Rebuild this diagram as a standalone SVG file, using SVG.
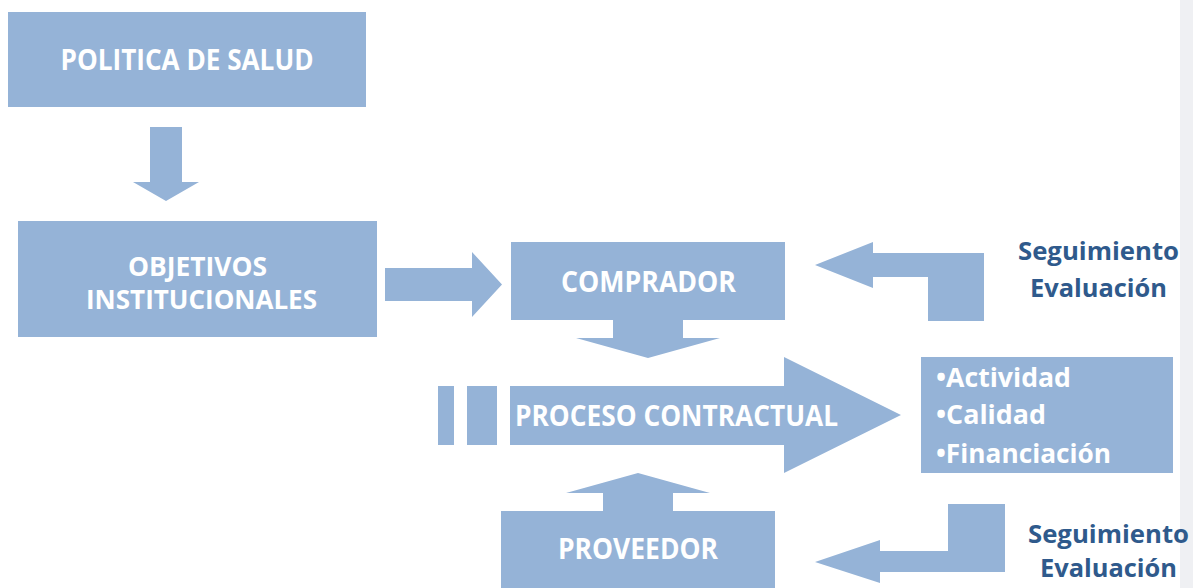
<svg xmlns="http://www.w3.org/2000/svg" width="1193" height="588" viewBox="0 0 1193 588">
<style>
.s{fill:#95b3d7}
.t{font-family:"Open Sans","DejaVu Sans",sans-serif;font-weight:bold;fill:#ffffff;font-size:28px}
.o{font-family:"Open Sans","DejaVu Sans",sans-serif;font-weight:bold;fill:#ffffff;font-size:26px}
.b{font-family:"Open Sans","DejaVu Sans",sans-serif;font-weight:bold;fill:#ffffff;font-size:27px}
.e{font-family:"Open Sans","DejaVu Sans",sans-serif;font-weight:bold;fill:#2f5a8c;font-size:25px}
</style>
<rect x="0" y="0" width="1193" height="588" fill="#ffffff"/>
<rect x="1180" y="0" width="13" height="588" fill="#eff0f3"/>
<g id="connectors">
<polygon class="s" points="150,127 182,127 182,182 199,182 166,201 133,182 150,182"/>
<polygon class="s" points="385,268 472,268 472,252 502,284.5 472,317 472,301 385,301"/>
<polygon class="s" points="613,320 683,320 683,338 720,338 648,358 576,338 613,338"/>
<polygon class="s" points="603,511 673,511 673,493 710,493 638,473 566,493 603,493"/>
<polygon class="s" points="815,265 873,242 873,253 984,253 984,321 928,321 928,277 873,277 873,288"/>
<polygon class="s" points="815,562 880,540 880,551 948,551 948,504 1005,504 1005,572 880,572 880,583"/>
<rect class="s" x="438" y="386" width="16" height="59"/>
<rect class="s" x="467" y="386" width="30" height="59"/>
</g>
<g id="politica">
<rect class="s" x="8" y="12" width="358" height="95"/>
<text class="t" x="187" y="70" text-anchor="middle" textLength="253" lengthAdjust="spacingAndGlyphs">POLITICA DE SALUD</text>
</g>
<g id="objetivos">
<rect class="s" x="18" y="221" width="359" height="116"/>
<text class="o" x="197.5" y="276" text-anchor="middle" textLength="139" lengthAdjust="spacingAndGlyphs">OBJETIVOS</text>
<text class="o" x="201.5" y="309" text-anchor="middle" textLength="231" lengthAdjust="spacingAndGlyphs">INSTITUCIONALES</text>
</g>
<g id="comprador">
<rect class="s" x="511" y="242" width="274" height="78"/>
<text class="t" x="648.5" y="292" text-anchor="middle" textLength="175" lengthAdjust="spacingAndGlyphs">COMPRADOR</text>
</g>
<g id="proceso">
<polygon class="s" points="510,386 784,386 784,357 901,415 784,473 784,445 510,445"/>
<text class="t" x="515" y="426" textLength="323" lengthAdjust="spacingAndGlyphs">PROCESO CONTRACTUAL</text>
</g>
<g id="proveedor">
<rect class="s" x="501" y="511" width="274" height="77"/>
<text class="t" x="638" y="559" text-anchor="middle" textLength="160" lengthAdjust="spacingAndGlyphs">PROVEEDOR</text>
</g>
<g id="criterios">
<rect class="s" x="921" y="357" width="252" height="116"/>
<text class="b" x="936" y="387" textLength="135" lengthAdjust="spacingAndGlyphs">•Actividad</text>
<text class="b" x="936" y="424" textLength="110" lengthAdjust="spacingAndGlyphs">•Calidad</text>
<text class="b" x="936" y="463" textLength="175" lengthAdjust="spacingAndGlyphs">•Financiación</text>
</g>
<g id="seguimiento1">
<text class="e" x="1098.5" y="260" text-anchor="middle" textLength="161" lengthAdjust="spacingAndGlyphs">Seguimiento</text>
<text class="e" x="1098.5" y="297" text-anchor="middle" textLength="137" lengthAdjust="spacingAndGlyphs">Evaluación</text>
</g>
<g id="seguimiento2">
<text class="e" x="1108.5" y="543" text-anchor="middle" textLength="161" lengthAdjust="spacingAndGlyphs">Seguimiento</text>
<text class="e" x="1108.5" y="577" text-anchor="middle" textLength="137" lengthAdjust="spacingAndGlyphs">Evaluación</text>
</g>
</svg>
